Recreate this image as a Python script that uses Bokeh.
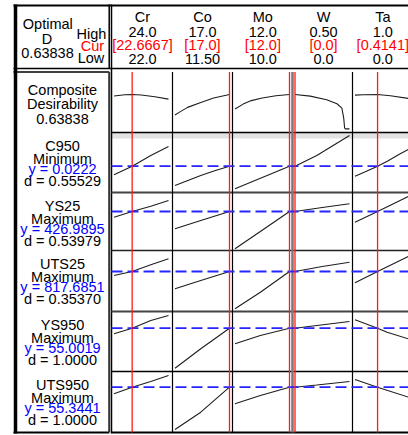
from bokeh.plotting import figure
from bokeh.models import Range1d
from bokeh.embed import file_html
from bokeh.resources import INLINE
from bokeh.core.properties import value

# ---------------- data ----------------
factors = ["Cr", "Co", "Mo", "W", "Ta"]
factor_low = [22.0, 11.5, 10.0, 0.0, 0.0]
factor_high = [24.0, 17.0, 12.0, 0.5, 1.0]
factor_cur = [22.6667, 17.0, 12.0, 0.0, 0.4141]
high_labels = ["24.0", "17.0", "12.0", "0.50", "1.0"]
cur_labels = ["[22.6667]", "[17.0]", "[12.0]", "[0.0]", "[0.4141]"]
low_labels = ["22.0", "11.50", "10.0", "0.0", "0.0"]

composite_d = "0.63838"
responses = ["C950", "YS25", "UTS25", "YS950", "UTS950"]
goals = ["Minimum", "Maximum", "Maximum", "Maximum", "Maximum"]
pred_y = [0.0222, 426.9895, 817.6851, 55.0019, 55.3441]
pred_labels = ["y = 0.0222", "y = 426.9895", "y = 817.6851", "y = 55.0019", "y = 55.3441"]
d_labels = ["d = 0.55529", "d = 0.53979", "d = 0.35370", "d = 1.0000", "d = 1.0000"]

comp_x = [[22.0, 22.4, 22.6667, 23.0, 23.5, 24.0],
          [11.5, 12.0, 12.77, 14.1, 15.4, 16.2, 17.0],
          [10.0, 10.3, 10.6, 11.0, 11.5, 12.0],
          [0.0, 0.14, 0.29, 0.385, 0.43, 0.447, 0.455, 0.46, 0.5],
          [0.0, 0.15, 0.4141, 0.65, 1.0]]
comp_y = [[0.612, 0.633, 0.638, 0.628, 0.596, 0.553],
          [0.258, 0.315, 0.399, 0.491, 0.572, 0.607, 0.638],
          [0.369, 0.46, 0.525, 0.575, 0.615, 0.638],
          [0.638, 0.608, 0.54, 0.467, 0.385, 0.2, 0.02, 0.0, 0.0],
          [0.627, 0.635, 0.638, 0.614, 0.562]]

c950_x = [[22.0, 22.6667, 23.35, 24.0], [11.5, 12.8, 14.1, 15.5, 17.0],
          [10.0, 11.0, 12.0], [0.0, 0.2, 0.5], [0.0, 0.2, 0.4141, 0.6, 0.83, 1.0]]
c950_y = [[0.0153, 0.0222, 0.0308, 0.0380], [0.0068, 0.0108, 0.0148, 0.0185, 0.0222],
          [0.0041, 0.0132, 0.0222], [0.0222, 0.0308, 0.0468],
          [0.0142, 0.0180, 0.0222, 0.0264, 0.0321, 0.0360]]

ys25_x = [[22.0, 22.6667, 23.35, 24.0], [11.5, 14.1, 17.0], [10.0, 10.93, 12.0],
          [0.0, 0.25, 0.5], [0.0, 0.4141, 1.0]]
ys25_y = [[415.6, 427.0, 437.6, 449.0], [392.4, 409.0, 427.0], [352.4, 387.0, 427.0],
          [427.0, 435.0, 442.4], [405.6, 427.0, 458.0]]

uts25_x = [[22.0, 22.6667, 23.35, 24.0], [11.5, 14.1, 17.0], [10.0, 10.93, 12.0],
           [0.0, 0.25, 0.5], [0.0, 0.4141, 1.0]]
uts25_y = [[809.7, 817.7, 831.1, 843.1], [783.1, 799.7, 817.7], [743.1, 776.3, 817.7],
           [817.7, 827.7, 836.3], [795.1, 817.7, 849.0]]

ys950_x = [[22.0, 22.6667, 23.35, 24.0], [11.5, 14.1, 17.0], [10.0, 10.93, 12.0],
           [0.0, 0.2, 0.5], [0.0, 0.4141, 0.59, 1.0]]
ys950_y = [[52.2, 55.0, 58.85, 61.35], [35.0, 44.7, 55.0], [47.2, 51.35, 55.0],
           [55.0, 56.35, 58.35], [59.2, 55.0, 53.0, 49.5]]

uts950_x = [[22.0, 22.6667, 23.35, 24.0], [11.5, 14.1, 17.0], [10.0, 10.93, 12.0],
            [0.0, 0.2, 0.5], [0.0, 0.4141, 1.0]]
uts950_y = [[52.05, 55.34, 58.2, 61.2], [34.2, 42.85, 55.34], [47.05, 51.2, 55.34],
            [55.34, 56.45, 58.2], [59.2, 55.34, 50.2]]

# vertical scale of each row (composite, C950, YS25, UTS25, YS950, UTS950)
row_lo = [-0.0683, 0.00116, 348.99, 737.69, 33.35, 32.69]
row_hi = [1.0572, 0.04916, 464.99, 859.69, 63.35, 63.19]

curves_x = [comp_x, c950_x, ys25_x, uts25_x, ys950_x, uts950_x]
curves_y = [comp_y, c950_y, ys25_y, uts25_y, ys950_y, uts950_y]

# ---------------- layout (page pixels) ----------------
col_left = [111, 172, 232, 292, 352]
col_center = [142, 202, 262.3, 323, 382.3]
row_top = [71.5, 132, 192, 250, 311, 371]
row_bot = [132, 192, 250, 311, 371, 432]
FONT = value("Liberation Sans")
FS = "14.5px"

p = figure(width=408, height=435, x_range=Range1d(0, 408), y_range=Range1d(435, 0),
           output_backend="svg", toolbar_location=None, min_border=0,
           x_axis_location=None, y_axis_location=None, outline_line_color=None,
           background_fill_color="white", border_fill_color="white")
p.grid.visible = False

# gray band under composite row
p.quad(left=[111], right=[410], bottom=[138], top=[132.5], fill_color="#e2e2e2", line_color=None)

# frame
p.segment(x0=[13, 13, 13, 111], y0=[5, 68, 71.5, 432], x1=[410, 410, 108.7, 410], y1=[5, 68, 71.5, 432],
          line_color="black", line_width=[2, 1.5, 1.5, 2])
p.segment(x0=[13], y0=[432], x1=[108.7], y1=[432], line_color="black", line_width=2)
p.segment(x0=[15, 108.7, 111], y0=[4, 4, 4], x1=[15, 108.7, 111], y1=[433, 68, 433],
          line_color="black", line_width=[3.5, 1.5, 1.5])
p.segment(x0=[108.7], y0=[71.5], x1=[108.7], y1=[432], line_color="#333", line_width=2)
# row separators
p.segment(x0=[111] * 5, y0=row_bot[:5], x1=[410] * 5, y1=row_bot[:5],
          line_color=["black", "#444", "#222", "#444", "black"], line_width=[1.3, 2, 1.5, 2, 1.3])
# column separators
p.segment(x0=col_left[1:], y0=[71.5] * 4, x1=col_left[1:], y1=[432] * 4,
          line_color=["black", "black", "#777", "black"], line_width=[1.2, 1.2, 2.5, 1.2])

# curves
for i in range(6):
    for j in range(5):
        sub = p.subplot(x_source=Range1d(factor_low[j], factor_high[j]),
                        x_target=Range1d(col_left[j] + 2.5, col_left[j] + 57),
                        y_source=Range1d(row_lo[i], row_hi[i]),
                        y_target=Range1d(row_bot[i], row_top[i]))
        sub.line(curves_x[i][j], curves_y[i][j], line_color="#1e1e1e", line_width=1.1)

# predicted response lines
for i in range(1, 6):
    sub = p.subplot(x_source=Range1d(0, 1), x_target=Range1d(111, 410),
                    y_source=Range1d(row_lo[i], row_hi[i]),
                    y_target=Range1d(row_bot[i], row_top[i]))
    sub.segment(x0=[0], y0=[pred_y[i - 1]], x1=[1], y1=[pred_y[i - 1]],
                line_color="#2525ff", line_width=1.8, line_dash="11 5")

# current factor settings
for j in range(5):
    sub = p.subplot(x_source=Range1d(factor_low[j], factor_high[j]),
                    x_target=Range1d(col_left[j] + 2.5, col_left[j] + 57),
                    y_source=Range1d(0, 1), y_target=Range1d(432, 71.5))
    sub.segment(x0=[factor_cur[j]], y0=[0], x1=[factor_cur[j]], y1=[1],
                line_color="#ff1a1a", line_width=1.3)

def txt(xs, ys, texts, color, align="center"):
    p.text(x=xs, y=ys, text=texts, text_color=color, text_font=FONT,
           text_font_size=FS, text_align=align, text_baseline="middle")

# header
txt([47.3, 46.5, 47], [23.8, 38.3, 52.7], ["Optimal", "D", composite_d], "black")
txt([91, 90.5], [33.3, 57.5], ["High", "Low"], "black")
txt([92], [45], ["Cur"], "#ff0000")
txt(col_center, [16.7] * 5, factors, "black")
txt(col_center, [31.7] * 5, high_labels, "black")
txt(col_center, [44.5] * 5, cur_labels, "#ff0000")
txt(col_center, [58] * 5, low_labels, "black")

# row labels
txt([62, 62, 62], [89.3, 103.7, 118.3], ["Composite", "Desirability", composite_d], "black")
offs = [13.2, 26, 36.7, 48.8]
bx, by, bt = [], [], []
lx, ly, lt = [], [], []
for k in range(5):
    t = row_top[k + 1]
    bx += [62, 62, 62]
    by += [t + offs[0], t + offs[1], t + offs[3]]
    bt += [responses[k], goals[k], d_labels[k]]
    lx.append(62)
    ly.append(t + offs[2])
    lt.append(pred_labels[k])
txt(bx, by, bt, "black")
txt(lx, ly, lt, "#0000ff")

open("out.html", "w").write(file_html(p, INLINE))
